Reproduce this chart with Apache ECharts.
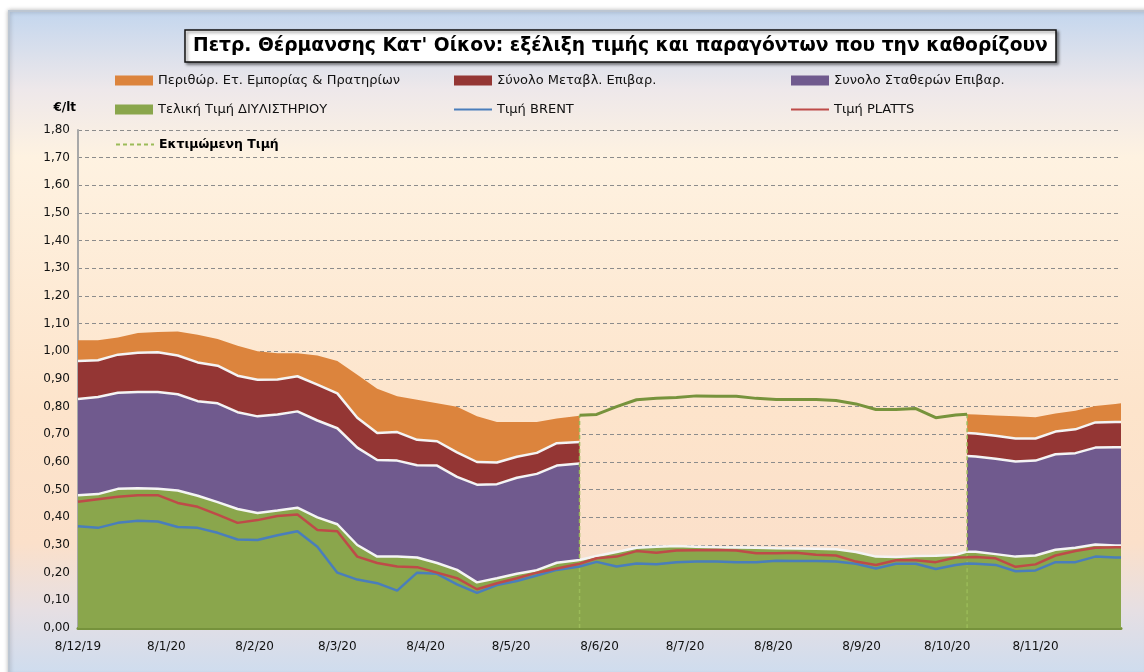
<!DOCTYPE html>
<html lang="el">
<head>
<meta charset="UTF-8">
<title>Πετρ. Θέρμανσης Κατ' Οίκον</title>
<script src="https://cdn.jsdelivr.net/npm/echarts@6/dist/echarts.min.js"></script>
<style>
  html, body { margin: 0; padding: 0; background: #fff; }
  #main { width: 1144px; height: 672px; }
</style>
</head>
<body>
<div id="main"></div>
<script>
  // weekly samples (top of each band, €/lt)
  var dates = ['2019-12-08', '2019-12-15', '2019-12-22', '2019-12-29', '2020-01-05', '2020-01-12', '2020-01-19', '2020-01-26',
    '2020-02-02', '2020-02-09', '2020-02-16', '2020-02-23', '2020-03-01', '2020-03-08', '2020-03-15', '2020-03-22', '2020-03-29',
    '2020-04-05', '2020-04-12', '2020-04-19', '2020-04-26', '2020-05-03', '2020-05-10', '2020-05-17', '2020-05-24', '2020-06-01',
    '2020-06-07', '2020-06-14', '2020-06-21', '2020-06-28', '2020-07-05', '2020-07-12', '2020-07-19', '2020-07-26', '2020-08-02',
    '2020-08-09', '2020-08-16', '2020-08-23', '2020-08-30', '2020-09-06', '2020-09-13', '2020-09-20', '2020-09-27', '2020-10-04',
    '2020-10-11', '2020-10-15', '2020-10-18', '2020-10-25', '2020-11-01', '2020-11-08', '2020-11-15', '2020-11-22', '2020-11-29',
    '2020-12-06', '2020-12-08'];

  var marginTop = [1.04, 1.04, 1.05, 1.066, 1.07, 1.072, 1.06, 1.045, 1.02, 1.0, 0.993, 0.993, 0.985, 0.965, 0.915, 0.865, 0.838,
    0.825, 0.812, 0.80, 0.765, 0.745, 0.745, 0.745, 0.757, 0.767,
    null, null, null, null, null, null, null, null, null, null, null, null, null, null, null, null, null, null, null,
    0.773, 0.772, 0.768, 0.765, 0.762, 0.775, 0.785, 0.802, 0.81, 0.812];

  var varTaxTop = [0.965, 0.968, 0.988, 0.995, 0.997, 0.985, 0.96, 0.948, 0.912, 0.897, 0.898, 0.91, 0.88, 0.848, 0.76, 0.705, 0.708,
    0.68, 0.675, 0.635, 0.60, 0.598, 0.619, 0.633, 0.668, 0.672,
    null, null, null, null, null, null, null, null, null, null, null, null, null, null, null, null, null, null, null,
    0.705, 0.703, 0.695, 0.685, 0.685, 0.71, 0.718, 0.743, 0.745, 0.745];

  var fixTaxTop = [0.828, 0.835, 0.85, 0.853, 0.853, 0.845, 0.82, 0.812, 0.78, 0.765, 0.772, 0.783, 0.75, 0.722, 0.652, 0.607, 0.605,
    0.588, 0.587, 0.546, 0.518, 0.52, 0.543, 0.557, 0.587, 0.595,
    null, null, null, null, null, null, null, null, null, null, null, null, null, null, null, null, null, null, null,
    0.622, 0.62, 0.612, 0.602, 0.605, 0.628, 0.632, 0.652, 0.653, 0.653];

  var refinery = [0.48, 0.484, 0.503, 0.505, 0.503, 0.497, 0.478, 0.455, 0.43, 0.416, 0.425, 0.435, 0.40, 0.375, 0.30, 0.258, 0.258,
    0.255, 0.235, 0.21, 0.165, 0.18, 0.196, 0.209, 0.236, 0.246, 0.26, 0.275, 0.29, 0.294, 0.296, 0.294, 0.292, 0.291, 0.29,
    0.288, 0.287, 0.286, 0.285, 0.275, 0.258, 0.257, 0.26, 0.261, 0.265, 0.276, 0.276, 0.267, 0.258, 0.262, 0.283, 0.29, 0.302,
    0.298, 0.298];

  var brent = [0.368, 0.362, 0.38, 0.388, 0.385, 0.365, 0.362, 0.344, 0.32, 0.318, 0.335, 0.35, 0.294, 0.20, 0.175, 0.162, 0.135,
    0.20, 0.196, 0.158, 0.127, 0.155, 0.17, 0.19, 0.21, 0.222, 0.239, 0.222, 0.233, 0.23, 0.238, 0.24, 0.24, 0.238, 0.238,
    0.243, 0.242, 0.242, 0.24, 0.232, 0.215, 0.232, 0.232, 0.213, 0.228, 0.233, 0.232, 0.228, 0.205, 0.208, 0.238, 0.238, 0.258,
    0.255, 0.255];

  var platts = [0.456, 0.465, 0.474, 0.48, 0.48, 0.452, 0.438, 0.41, 0.38, 0.39, 0.405, 0.41, 0.354, 0.35, 0.258, 0.235, 0.222,
    0.22, 0.20, 0.18, 0.14, 0.162, 0.18, 0.20, 0.215, 0.232, 0.252, 0.258, 0.278, 0.272, 0.28, 0.281, 0.282, 0.28, 0.27,
    0.27, 0.272, 0.265, 0.262, 0.24, 0.228, 0.245, 0.245, 0.238, 0.255, 0.256, 0.257, 0.252, 0.221, 0.23, 0.262, 0.278, 0.29,
    0.292, 0.292];

  var estimated = [null, null, null, null, null, null, null, null, null, null, null, null, null, null, null, null, null,
    null, null, null, null, null, null, null, null, 0.769, 0.772, 0.80, 0.825, 0.83, 0.833, 0.839, 0.838, 0.838, 0.83,
    0.826, 0.826, 0.826, 0.822, 0.81, 0.79, 0.79, 0.793, 0.76, 0.77, 0.773, null, null, null, null, null, null, null,
    null, null];

  var monthTicks = ['2019-12-08', '2020-01-08', '2020-02-08', '2020-03-08', '2020-04-08', '2020-05-08', '2020-06-08',
    '2020-07-08', '2020-08-08', '2020-09-08', '2020-10-08', '2020-11-08'];

  var names = ['Περιθώρ. Ετ. Εμπορίας & Πρατηρίων', 'Σύνολο Μεταβλ. Επιβαρ.', 'Συνολο Σταθερών Επιβαρ.',
    'Τελική Τιμή ΔΙΥΛΙΣΤΗΡΙΟΥ', 'Τιμή BRENT', 'Τιμή PLATTS', 'Εκτιμώμενη Τιμή'];

  function ts(s) {
    var p = s.split('-');
    return new Date(+p[0], +p[1] - 1, +p[2]).getTime();
  }

  function pairs(arr) {
    return arr.map(function (v, i) { return [ts(dates[i]), v]; });
  }

  // vertical dashed edges of the estimated stretch
  var estIdx = [];
  estimated.forEach(function (v, i) { if (v != null) estIdx.push(i); });
  var e0 = estIdx[0], e1 = estIdx[estIdx.length - 1];
  var edges = [[ts(dates[e0]), 0], [ts(dates[e0]), estimated[e0]], [ts(dates[e0]), null],
    [ts(dates[e1]), estimated[e1]], [ts(dates[e1]), 0]];

  var font = 'DejaVu Sans, Verdana, sans-serif';

  function band(name, data, color, line) {
    return {
      name: name, type: 'line', data: pairs(data), symbol: 'none',
      itemStyle: { color: color },
      lineStyle: line ? { color: '#f4f4f4', width: 2.5 } : { width: 0, color: color },
      areaStyle: { color: color, opacity: 1 },
      emphasis: { disabled: true }
    };
  }

  // line items in the legend: no marker, only the stroke
  function lineItem(name) {
    return { name: name, itemStyle: { opacity: 0 } };
  }

  var chart = echarts.init(document.getElementById('main'));
  var option = {
    animation: false,
    backgroundColor: '#fff',
    graphic: [{
      type: 'rect', z: -10, silent: true,
      shape: { x: 9, y: 11, width: 1140, height: 665 },
      style: {
        fill: new echarts.graphic.LinearGradient(0, 0, 0, 1, [
          { offset: 0, color: '#c3d6ee' },
          { offset: 0.12, color: '#eee8ea' },
          { offset: 0.22, color: '#fef2e1' },
          { offset: 0.6, color: '#fde4cb' },
          { offset: 0.8, color: '#fbe0ca' },
          { offset: 0.9, color: '#e6dfe3' },
          { offset: 1, color: '#cddcef' }
        ]),
        stroke: '#bcc6d2', lineWidth: 2,
        shadowColor: 'rgba(0,0,0,0.25)', shadowBlur: 4
      }
    }],
    title: {
      text: 'Πετρ. Θέρμανσης Κατ\' Οίκον: εξέλιξη τιμής και παραγόντων που την καθορίζουν',
      left: 185, top: 30,
      padding: [7, 8, 6, 8],
      backgroundColor: '#fff',
      borderColor: '#111', borderWidth: 1.5,
      shadowColor: 'rgba(0,0,0,0.45)', shadowBlur: 3, shadowOffsetX: 2, shadowOffsetY: 2,
      textStyle: { fontFamily: font, fontSize: 18.7, fontWeight: 'bold', color: '#000' }
    },
    legend: [
      { data: [{ name: names[0], icon: 'rect' }, { name: names[3], icon: 'rect' }], left: 110 },
      { data: [{ name: names[1], icon: 'rect' }, lineItem(names[4])], left: 448 },
      { data: [{ name: names[2], icon: 'rect' }, lineItem(names[5])], left: 785 },
      { data: [lineItem(names[6])], left: 110, top: 133, textStyle: { fontFamily: font, fontSize: 12.5, fontWeight: 'bold', color: '#000' } }
    ].map(function (l) {
      return Object.assign({
        orient: 'vertical', top: 69, itemGap: 16, itemWidth: 38, itemHeight: 10,
        textStyle: { fontFamily: font, fontSize: 13, color: '#111' },
        selectedMode: false
      }, l);
    }),
    grid: { left: 78, right: 23, top: 130, bottom: 44 },
    xAxis: {
      type: 'value',
      min: ts('2019-12-08'),
      max: ts('2020-12-08'),
      axisLine: { show: true, onZero: false, lineStyle: { color: '#76923c', width: 3 } },
      axisTick: { show: false },
      splitLine: { show: false },
      axisLabel: {
        customValues: monthTicks.map(ts),
        formatter: function (v) {
          var d = new Date(v);
          return d.getDate() + '/' + (d.getMonth() + 1) + '/' + (d.getFullYear() % 100);
        },
        margin: 13,
        fontFamily: font, fontSize: 12, color: '#111'
      }
    },
    yAxis: {
      type: 'value', min: 0, max: 1.8, interval: 0.1,
      name: '€/lt', nameLocation: 'end', nameGap: 16,
      nameTextStyle: { fontFamily: font, fontSize: 12, fontWeight: 'bold', color: '#000', align: 'right', padding: [0, 2, 0, 0] },
      axisLine: { show: true, lineStyle: { color: '#a8a8a8', width: 2 } },
      axisTick: { show: false },
      axisLabel: {
        formatter: function (v) { return v.toFixed(2).replace('.', ','); },
        margin: 8, fontFamily: font, fontSize: 12, color: '#111'
      },
      splitLine: { show: true, lineStyle: { color: '#8c8c8c', width: 1, type: [4, 3] } }
    },
    series: [
      band(names[0], marginTop, '#dc843d', false),
      band(names[1], varTaxTop, '#943634', true),
      band(names[2], fixTaxTop, '#705a8e', true),
      band(names[3], refinery, '#8aa64c', true),
      {
        name: names[6], type: 'line', data: edges, symbol: 'none',
        itemStyle: { color: '#9bbb59' },
        lineStyle: { color: '#9bbb59', width: 1.5, type: [4, 3] }
      },
      {
        name: names[6], type: 'line', data: pairs(estimated), symbol: 'none',
        itemStyle: { color: '#77933c' },
        lineStyle: { color: '#77933c', width: 3 }
      },
      {
        name: names[4], type: 'line', data: pairs(brent), symbol: 'none',
        itemStyle: { color: '#4a7ebb' },
        lineStyle: { color: '#4a7ebb', width: 2.5 }
      },
      {
        name: names[5], type: 'line', data: pairs(platts), symbol: 'none',
        itemStyle: { color: '#be4b48' },
        lineStyle: { color: '#be4b48', width: 2.5 }
      }
    ]
  };
  chart.setOption(option);
</script>
</body>
</html>
